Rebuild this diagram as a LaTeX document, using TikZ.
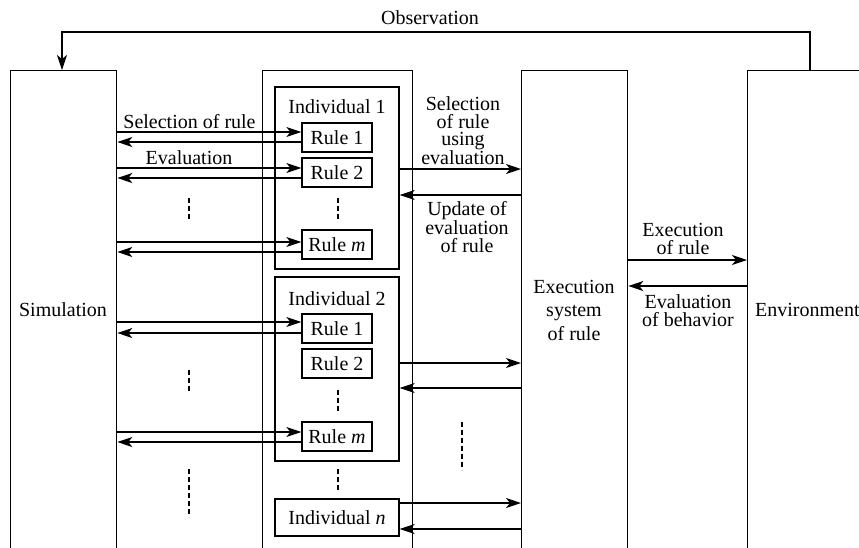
\documentclass[tikz,border=0pt]{standalone}
\usepackage{fontspec}
\setmainfont{Liberation Serif}
\newfontfamily\diagfont{Liberation Serif}
\usetikzlibrary{arrows.meta}
\begin{document}
\begin{tikzpicture}[x=1pt,y=-1pt,
  every node/.style={inner sep=0pt, font=\diagfont\fontsize{20}{17.5}\selectfont},
  col/.style={draw, line width=1.3pt, minimum height=500pt, anchor=north west},
  indbox/.style={draw, line width=1.3pt, minimum width=124pt},
  rulebox/.style={draw, line width=1.3pt, minimum width=70pt, minimum height=29pt},
  arr/.style={line width=1.2pt, -{Stealth[length=15pt,width=10pt,inset=4pt]}},
  dots/.style={line width=1.2pt, dash pattern=on 5pt off 3pt},
  lbl/.style={align=center},
]
\useasboundingbox (0,0) rectangle (859,547);
\clip (0,0) rectangle (859,547);

% main columns, open at the bottom
\node[col, minimum width=106pt] (sim) at (10,70) {};
\node[col, minimum width=150pt] (pop) at (262,70) {};
\node[col, minimum width=106pt] (exe) at (521,70) {};
\node[col, minimum width=200pt] (env) at (747,70) {};

% column labels
\node (simlbl) at (63,310) {Simulation};
\node[lbl, font=\diagfont\fontsize{20}{23.5}\selectfont] (exelbl) at (574,310) {Execution\\system\\of rule};
\node[anchor=west] (envlbl) at (755,310) {Environment};

% individuals
\node[indbox, minimum height=182pt] (ind1) at (337,178) {};
\node (ind1lbl) at (337,107) {Individual 1};
\node[rulebox] (r11) at (337,137.5) {Rule 1};
\node[rulebox] (r12) at (337,172.5) {Rule 2};
\node[rulebox] (r1m) at (337,244.5) {Rule \textit{m}};

\node[indbox, minimum height=184pt] (ind2) at (337,369) {};
\node (ind2lbl) at (337,299) {Individual 2};
\node[rulebox] (r21) at (337,328.5) {Rule 1};
\node[rulebox] (r22) at (337,363.5) {Rule 2};
\node[rulebox] (r2m) at (337,436.5) {Rule \textit{m}};

\node[indbox, minimum height=37pt] (indn) at (337,517.5) {Individual \textit{n}};

% simulation <-> rules
\draw[arr] (sim.east |- 0,132) -- (r11.west |- 0,132);
\draw[arr] (r11.west |- 0,142) -- (sim.east |- 0,142);
\draw[arr] (sim.east |- 0,168) -- (r12.west |- 0,168);
\draw[arr] (r12.west |- 0,178) -- (sim.east |- 0,178);
\draw[arr] (sim.east |- 0,242) -- (r1m.west |- 0,242);
\draw[arr] (r1m.west |- 0,252) -- (sim.east |- 0,252);
\draw[arr] (sim.east |- 0,322) -- (r21.west |- 0,322);
\draw[arr] (r21.west |- 0,333) -- (sim.east |- 0,333);
\draw[arr] (sim.east |- 0,432) -- (r2m.west |- 0,432);
\draw[arr] (r2m.west |- 0,442) -- (sim.east |- 0,442);

\node (selrule) at (189.5,122) {Selection of rule};
\node (evallbl) at (189,158) {Evaluation};

% individuals <-> execution system
\draw[arr] (ind1.east |- 0,169) -- (exe.west |- 0,169);
\draw[arr] (exe.west |- 0,195) -- (ind1.east |- 0,195);
\draw[arr] (ind2.east |- 0,363) -- (exe.west |- 0,363);
\draw[arr] (exe.west |- 0,388) -- (ind2.east |- 0,388);
\draw[arr] (indn.east |- 0,503) -- (exe.west |- 0,503);
\draw[arr] (exe.west |- 0,529) -- (indn.east |- 0,529);

\node[lbl] (sellbl) at (463,131) {Selection\\of rule\\using\\evaluation};
\node[lbl] (updlbl) at (467,227) {Update of\\evaluation\\of rule};

% execution system <-> environment
\draw[arr] (exe.east |- 0,260) -- (env.west |- 0,260);
\draw[arr] (env.west |- 0,286) -- (exe.east |- 0,286);
\node[lbl] (execlbl) at (683,239) {Execution\\of rule};
\node[lbl] (evbehlbl) at (688,310.5) {Evaluation\\of behavior};

% observation feedback
\coordinate (obsR) at (810,32);
\coordinate (obsL) at (62,32);
\draw[arr] (env.north -| obsR) -- (obsR) -- (obsL) -- (sim.north -| obsL);
\node (obslbl) at (430,18) {Observation};

% continuation marks
\draw[dots] (189,198) -- (189,221);
\draw[dots] (189,370) -- (189,393);
\draw[dots] (189,469) -- (189,517);
\draw[dots] (338,198) -- (338,221);
\draw[dots] (338,390) -- (338,412);
\draw[dots] (338,469) -- (338,492);
\draw[dots] (462,422) -- (462,470);
\end{tikzpicture}
\end{document}
